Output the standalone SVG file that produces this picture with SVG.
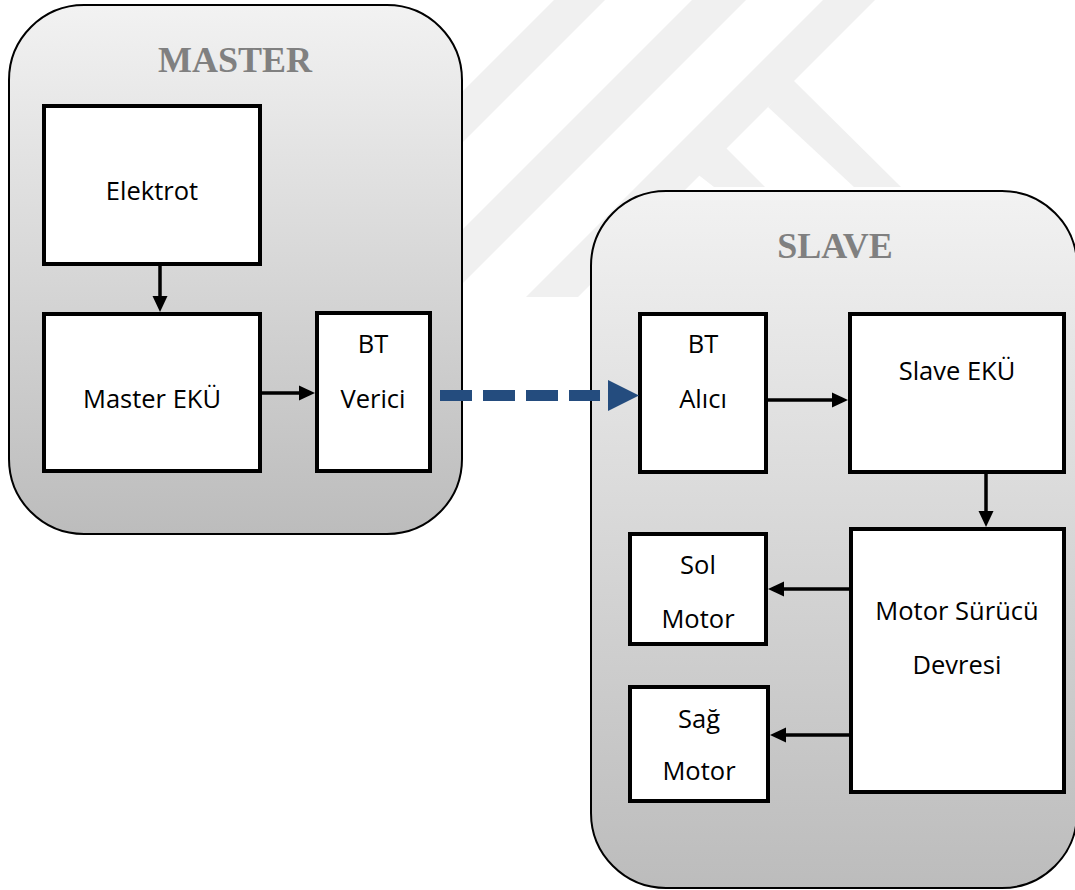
<svg xmlns="http://www.w3.org/2000/svg" width="1075" height="890" viewBox="0 0 1075 890">
<defs>
<linearGradient id="cg" x1="0" y1="0" x2="0" y2="1">
<stop offset="0" stop-color="#f2f2f2"/>
<stop offset="1" stop-color="#bcbcbc"/>
</linearGradient>
<style>
.wm{fill:#f0f0f0}
.cont{fill:url(#cg);stroke:#000;stroke-width:2}
.box{fill:#fff;stroke:#000;stroke-width:4}
.title{font-family:"Liberation Serif","Times New Roman",serif;font-weight:bold;font-size:36px;fill:#808080;text-anchor:middle}
.lbl{font-family:"Open Sans","Noto Sans",sans-serif;font-size:25.5px;fill:#000;text-anchor:middle}
.ln{stroke:#000;stroke-width:3.5;fill:none}
.hd{fill:#000}
</style>
</defs>
<g id="watermark">
<polygon class="wm" points="554,0 605,0 150,455 99,455"/>
<polygon class="wm" points="692,0 746,0 300,446 246,446"/>
<polygon class="wm" points="823,0 875,0 578,297 526,297"/>
<polygon class="wm" points="793,80 901,187 854,187 768,107"/>
<polygon class="wm" points="725,147 765,187 714,187 696,173"/>
</g>
<g id="master">
<rect class="cont" x="9" y="5" width="453" height="529" rx="75" ry="75"/>
<text class="title" x="235" y="72">MASTER</text>
</g>
<g id="slave">
<rect class="cont" x="591" y="191" width="486" height="697" rx="75" ry="75"/>
<text class="title" x="835" y="258">SLAVE</text>
</g>
<g id="elektrot">
<rect class="box" x="44" y="106" width="216" height="158"/>
<text class="lbl" x="152" y="200">Elektrot</text>
</g>
<g id="master-eku">
<rect class="box" x="44" y="314" width="216" height="157"/>
<text class="lbl" x="152" y="408">Master EKÜ</text>
</g>
<g id="bt-verici">
<rect class="box" x="317" y="313" width="113" height="158"/>
<text class="lbl" x="373" y="353">BT</text>
<text class="lbl" x="373" y="408">Verici</text>
</g>
<g id="bt-alici">
<rect class="box" x="640" y="314" width="126" height="158"/>
<text class="lbl" x="703" y="353">BT</text>
<text class="lbl" x="703" y="408">Alıcı</text>
</g>
<g id="slave-eku">
<rect class="box" x="850" y="314" width="214" height="158"/>
<text class="lbl" x="957" y="380">Slave EKÜ</text>
</g>
<g id="motor-surucu">
<rect class="box" x="851" y="529" width="213" height="263"/>
<text class="lbl" x="957" y="620">Motor Sürücü</text>
<text class="lbl" x="957" y="674">Devresi</text>
</g>
<g id="sol-motor">
<rect class="box" x="630" y="534" width="136" height="110"/>
<text class="lbl" x="698" y="574">Sol</text>
<text class="lbl" x="698" y="628">Motor</text>
</g>
<g id="sag-motor">
<rect class="box" x="630" y="687" width="138" height="114"/>
<text class="lbl" x="699" y="728">Sağ</text>
<text class="lbl" x="699" y="780">Motor</text>
</g>
<g id="connectors">
<line class="ln" x1="160" y1="266" x2="160" y2="299"/>
<polygon class="hd" points="152.5,296 167.5,296 160,312"/>
<line class="ln" x1="262" y1="393" x2="302" y2="393"/>
<polygon class="hd" points="299,385.5 299,400.5 315,393"/>
<line class="ln" x1="768" y1="400" x2="835" y2="400"/>
<polygon class="hd" points="832,392.5 832,407.5 848,400"/>
<line class="ln" x1="986" y1="474" x2="986" y2="514"/>
<polygon class="hd" points="978.5,511 993.5,511 986,527"/>
<line class="ln" x1="849" y1="589" x2="782" y2="589"/>
<polygon class="hd" points="784,581.5 784,596.5 768,589"/>
<line class="ln" x1="849" y1="735" x2="784" y2="735"/>
<polygon class="hd" points="786,727.5 786,742.5 770,735"/>
<line x1="440" y1="395.5" x2="600" y2="395.5" stroke="#244C7E" stroke-width="11" stroke-dasharray="32 11"/>
<polygon fill="#244C7E" points="608,380 608,411 639,395.5"/>
</g>
</svg>
